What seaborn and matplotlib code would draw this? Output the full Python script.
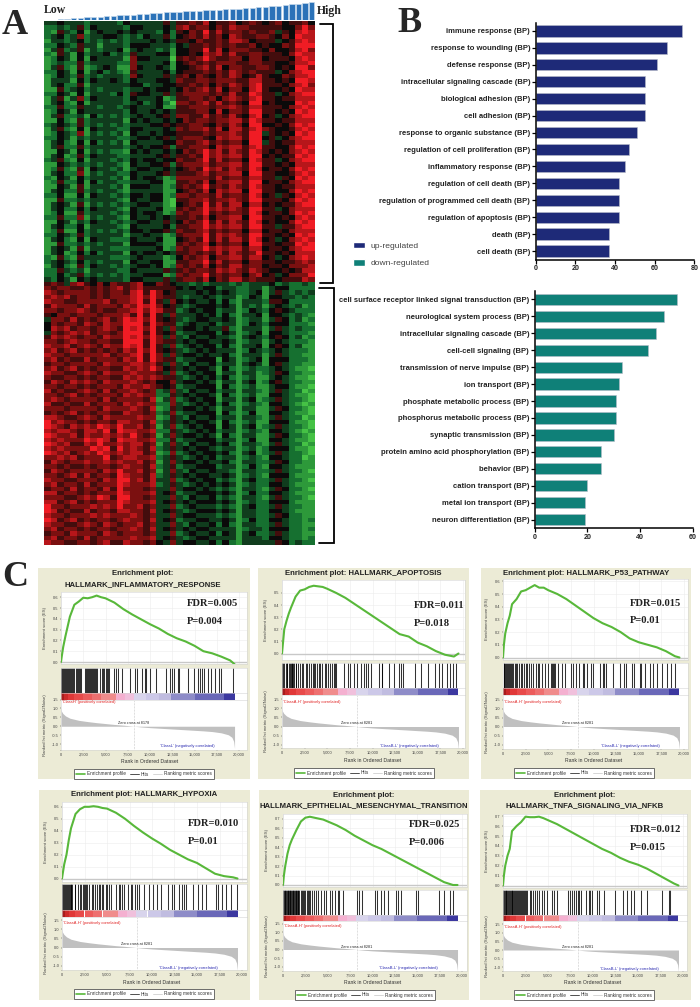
import matplotlib
matplotlib.use('Agg')
import matplotlib.pyplot as plt
from matplotlib.colors import LinearSegmentedColormap
from matplotlib.lines import Line2D
from matplotlib.patches import Patch, Rectangle
import numpy as np
import pandas as pd
import seaborn as sns

# panel A, heat levels typed by eye: 0 bright green, 4 black, 8 bright red
UP_ROWS = [
    "3343332333 3243333353 5565745564 56545645564",
    "2232352433 3324433343 6756646576 65555544686",
    "2153241343 3434333242 5465857566 56556354787",
    "2342362334 4323243352 4565756476 55665464877",
    "1332342323 2323334343 5546556577 64555345787",
    "2243253313 3324443332 4355656565 56454465888",
    "1352351323 3413433231 4455857466 65546445786",
    "2153142334 2325333441 4454767575 56655546877",
    "1243141433 3316443330 5656865566 46645554787",
    "1232252333 3226333341 4565656665 56655445778",
    "1352151234 3116433431 4456757466 55665454886",
    "2243141342 3215333342 4555656576 56555346788",
    "1243252323 3326433353 5646546576 45754465778",
    "1333142433 4324333443 6556656665 57755454887",
    "1342251333 3334423344 5565646576 57855546786",
    "1152342323 3323343443 4656757466 47854454877",
    "2243141333 2425443353 5666656575 58755346788",
    "1351362433 3324333412 5566564676 57855455777",
    "1342141333 3323423420 6656757565 48845444878",
    "2252253323 3234333411 5566656676 57755546787",
    "1243143333 3324334343 5556647466 58855454878",
    "1352231423 2323433453 6655756575 47845346788",
    "1142152333 3314343343 4656656677 58755455777",
    "2343252323 2323334454 5566546576 48844546878",
    "1352141433 3224433343 6566757477 57865445787",
    "1243261323 2314334344 5555656676 58835454878",
    "2243132333 3223443453 5666547677 58845346788",
    "1342141423 2314333344 6556756566 48835455777",
    "1352252333 3323434452 5566647677 57855446878",
    "1143141323 2214343343 4656867576 58754546787",
    "1341252433 3223333453 5565867677 58845455878",
    "2352141333 2324344344 6556857566 48755346788",
    "1143232323 3214334452 5666756677 58855454777",
    "1252151433 2313443343 4565867576 58745546878",
    "1342261323 3224333453 5556756677 48855445787",
    "2143142333 2314344312 6666657566 57755354878",
    "1252241423 3223334411 5565746677 58845546788",
    "1143151333 2314443312 5656856576 58755455777",
    "1342252323 3213333311 4565747677 48855446878",
    "2241141433 2324434412 6656657566 58745354787",
    "1152232333 3214334410 5566756676 58855546878",
    "1343151323 2323443310 4565857577 47745455788",
    "1342242433 3214333411 5656867676 58855346777",
    "1241152333 2324344312 6566856566 58745546878",
    "2252261323 3214334343 5565746677 48855454787",
    "1143132433 2323443353 4656857576 58745446878",
    "1342241333 3214333342 5566867677 58855355788",
    "1251142323 2324434453 6556756566 47745546777",
    "2243252333 3313343312 5666857676 58855454878",
    "1342141433 2224333411 4565857577 58745346787",
    "1152232323 3314444311 5656746566 48855455878",
    "1343151333 2223333412 6566867677 57745546788",
    "1341242423 3314344343 5565657576 56855454777",
    "2152153333 2223433312 4656746677 57745346787",
    "2343242323 3314334411 5566857566 46655455676",
    "1342152433 2323443412 6565746577 56645546667",
    "2253231333 3224333353 5656657676 57654454577",
    "2242352323 2323344412 6566856566 46745346668",
    "3243143433 3324433353 5665746577 56555455576",
    "5653675464 6556744654 3323233323 23334232232",
]

DOWN_ROWS = [
    "6566556565 6756755555 4343442332 23313442222",
    "7656666565 6657858645 3334343432 23413532323",
    "6767566565 6667868655 3233432331 24314433232",
    "7665566667 5667858536 4343342421 33325542222",
    "5766657566 6576878645 3234443431 32313432312",
    "6656676565 5667868755 2343442331 24324543222",
    "5466566656 6675858536 3334342421 33414432321",
    "3665756567 5687868545 3234433431 23313542312",
    "4656657657 6688858655 2343342331 24324442221",
    "4767566567 6587868536 3443433521 33313532322",
    "3656767566 5688858545 2334442431 23414432221",
    "5767656657 6687868636 3243343321 34324542312",
    "6656766566 5588858655 3434433431 23313432221",
    "7667567657 6687858536 2343442421 33414542311",
    "6756756565 6576868545 3234343331 24323432221",
    "7665666667 5667858636 3443433421 33313532211",
    "6756557566 6576858655 2334441431 23414442221",
    "5665666657 6667767536 3243342331 34314532211",
    "6756756566 5576768645 3434431421 23223432110",
    "7665567657 6667666536 2343441331 33123542211",
    "6556656566 5576767655 3234342421 23113432110",
    "5765767657 6667656446 3443431331 34124532211",
    "6656656566 6576676545 2334441421 23113442110",
    "7565567657 5667656236 3243342331 33213532201",
    "6656756566 6576766225 3434431421 23114432110",
    "6765666657 5666657136 2343441331 34123532210",
    "7556557566 6576766226 3234342421 23214432101",
    "6665666657 6667657125 3443431331 33113542210",
    "5656756566 5576656236 2334441421 24114432110",
    "7765567657 6666766125 3243342331 33213532201",
    "8676656566 5776657235 3434431421 23114442110",
    "8765767687 6866756136 2343441431 34123532210",
    "7677657768 5877667225 3234342331 23214432101",
    "8766757667 6768656136 3443431421 33113542210",
    "7676668787 5877667225 2334442331 24114432110",
    "8767557686 6767756136 3243343421 33213532201",
    "7676666878 5867657235 3434432331 23124442110",
    "8767567687 6767756126 2343443421 34123532210",
    "6676756668 5677667235 3234342331 23214432201",
    "5765667667 6766756136 3443433421 33223542211",
    "6656556566 5676657235 2334442331 24214432111",
    "5765666657 6866756136 3243343321 33223532210",
    "6656757566 5876657235 3434433431 23214442111",
    "7665566657 6886757336 2343442321 34223532210",
    "6756657566 6876667235 3234343431 23224432111",
    "5665756657 5866656336 3443432321 33213542210",
    "7756656566 6876667345 2334443431 24224432111",
    "6665567687 5886656336 3243342321 33213532210",
    "7756756566 6876667345 3434443431 23224442111",
    "8665666767 6866756336 2343332321 34223532211",
    "8756557566 5776657345 3234443431 33224432111",
    "7665666767 6667656336 3443332321 33223542211",
    "8756756566 5676657345 2334433431 24224432212",
    "7665567657 6566756336 3243342421 33223532211",
    "6756656566 5667657345 3434433331 23324442212",
    "5665766657 6566656336 2343342431 34223532211",
    "6756657566 6667667345 3234433331 33324432212",
    "7665566567 5576656436 3443342421 33333542322",
]

# bars above the heat map, from low to high
EXPRESSION_BARS = [0.3, 0.5, 1, 1.3, 1.7, 2.2, 2.6, 3, 3.5, 4, 4.2, 4.6, 5, 5.3, 6, 6.5, 7,
                   7.2, 7.6, 8, 8.2, 8.6, 9, 9.3, 9.6, 10, 10.4, 10.8, 11.1, 11.5, 12, 12.5,
                   13, 13.4, 13.8, 14.3, 15, 15.6, 16.5, 17.3, 18]

# panel B
UP_TERMS = ["immune response (BP)", "response to wounding (BP)", "defense response (BP)",
            "intracellular signaling cascade (BP)", "biological adhesion (BP)", "cell adhesion (BP)",
            "response to organic substance (BP)", "regulation of cell proliferation (BP)",
            "inflammatory response (BP)", "regulation of cell death (BP)",
            "regulation of programmed cell death (BP)", "regulation of apoptosis (BP)",
            "death (BP)", "cell death (BP)"]
UP_COUNTS = [74, 66, 61, 55, 55, 55, 51, 47, 45, 42, 42, 42, 37, 37]
DOWN_TERMS = ["cell surface receptor linked signal transduction (BP)", "neurological system process (BP)",
              "intracellular signaling cascade (BP)", "cell-cell signaling (BP)",
              "transmission of nerve impulse (BP)", "ion transport (BP)", "phosphate metabolic process (BP)",
              "phosphorus metabolic process (BP)", "synaptic transmission (BP)",
              "protein amino acid phosphorylation (BP)", "behavior (BP)", "cation transport (BP)",
              "metal ion transport (BP)", "neuron differentiation (BP)"]
DOWN_COUNTS = [54, 49, 46, 43, 33, 32, 31, 31, 30, 25, 25, 20, 19, 19]

# panel C, enrichment curves
ES_RANKS = [0, 100, 250, 500, 750, 1000, 1500, 2000, 2500, 3000, 3500, 4000, 4500, 5000, 6000, 7000,
            8000, 9000, 10000, 11000, 12000, 13000, 14000, 15000, 16000, 17000, 18000, 19000, 19500]
ES_INFLAMMATORY = [0, .06, .14, .24, .33, .42, .53, .56, .595, .59, .60, .615, .60, .59, .55, .49,
                   .44, .395, .35, .31, .26, .22, .19, .15, .10, .08, .05, .015, -.02]
ES_APOPTOSIS = [0, .08, .2, .27, .33, .38, .47, .52, .53, .55, .56, .555, .55, .535, .50, .46,
                .41, .36, .31, .26, .21, .16, .14, .09, .06, .02, -.01, -.025, 0]
ES_P53 = [0, .1, .19, .27, .33, .42, .46, .52, .53, .55, .57, .55, .55, .53, .50, .46,
          .41, .36, .31, .27, .24, .2, .15, .12, .1, .08, .05, .01, 0]
ES_HYPOXIA = [0, .05, .12, .2, .32, .42, .54, .58, .60, .60, .605, .60, .59, .585, .55, .50,
              .44, .385, .335, .29, .24, .2, .16, .13, .085, .04, .02, .01, 0]
ES_EMT = [0, .1, .2, .33, .42, .48, .58, .67, .71, .72, .71, .70, .69, .67, .63, .58,
          .52, .47, .42, .38, .33, .28, .23, .18, .13, .08, .03, 0, 0]
ES_TNFA = [0, .1, .2, .3, .37, .55, .6, .64, .695, .69, .69, .695, .68, .66, .62, .57,
           .52, .47, .42, .37, .33, .28, .24, .21, .17, .12, .07, .02, 0]

HITS_INFLAMMATORY = [50, 150, 250, 350, 500, 600, 700, 800, 900, 1000, 1100, 1250, 1400, 1500, 1650, 1800,
                     1950, 2050, 2150, 2300, 2700, 2800, 2900, 3050, 3200, 3300, 3400, 3500, 3600, 3700,
                     3800, 3950, 4100, 4400, 4600, 4700, 4850, 5000, 5150, 5300, 5400, 5950, 6200, 6400,
                     6900, 7700, 8300, 8500, 9100, 9400, 9500, 10050, 10700, 11800, 12300, 12500, 12700,
                     13100, 13300, 14300, 14900, 15350, 15600, 15800, 16100, 16500, 16800, 17300, 17800,
                     18000, 19300]
HITS_APOPTOSIS = [40, 120, 250, 400, 500, 600, 760, 900, 1000, 1080, 1150, 1250, 1330, 1500, 1600, 1750,
                  2000, 2200, 2350, 2600, 2750, 3000, 3150, 3400, 3500, 3700, 3900, 4100, 4250, 4400,
                  4700, 4900, 5100, 5300, 5500, 5700, 5900, 6000, 6800, 7300, 7500, 8000, 8300, 8700,
                  9100, 9300, 9500, 9800, 10700, 11000, 11100, 11800, 12400, 12900, 13100, 13400, 14700,
                  15400, 16100, 16900, 17400, 17700, 18200, 18600, 18900, 19200]
HITS_P53 = [60, 150, 260, 380, 480, 600, 700, 820, 900, 1000, 1150, 1300, 1450, 1600, 1750, 1950, 2150,
            2300, 2500, 2650, 2900, 3100, 3350, 3700, 3850, 4000, 4300, 4600, 5000, 5300, 5400, 5550,
            5650, 5800, 6100, 6550, 6800, 7500, 7700, 8100, 8400, 8800, 9000, 9300, 9700, 9900, 10700,
            11000, 11200, 11400, 12100, 12900, 13400, 13600, 14200, 14500, 15100, 15300, 15700, 16200,
            16600, 17000, 17600, 18100, 18600, 19000]
HITS_HYPOXIA = [50, 150, 250, 350, 450, 550, 650, 750, 850, 950, 1050, 1150, 1400, 1500, 1750, 1950, 2100,
                2300, 2400, 2500, 2650, 2800, 3000, 3300, 3400, 3650, 3900, 4100, 4200, 4400, 4600, 4900,
                5050, 5200, 5500, 6000, 6300, 6500, 6650, 6900, 7350, 7650, 7800, 8100, 8350, 8600, 9100,
                9700, 10100, 10600, 11000, 11800, 12200, 12400, 13000, 13300, 13600, 13800, 14500, 15100,
                15500, 16000, 17100, 17300, 17800, 18200, 18800, 19400]
HITS_EMT = [30, 110, 190, 270, 350, 430, 510, 590, 670, 750, 830, 910, 990, 1070, 1150, 1230, 1310, 1400,
            1480, 1560, 1640, 1720, 1800, 2000, 2120, 2200, 2350, 2500, 2650, 2800, 2900, 3000, 3250, 3500,
            3700, 3900, 4300, 4600, 4800, 5200, 5500, 5800, 6100, 6300, 6700, 8300, 8500, 8800, 10300,
            10450, 11000, 11300, 11700, 12600, 12900, 13200, 14900, 15100, 17400, 18000, 18700, 18950]
HITS_TNFA = [40, 120, 200, 300, 380, 470, 560, 650, 750, 850, 950, 1050, 1150, 1250, 1350, 1450, 1600, 1700,
             1800, 1900, 2000, 2100, 2200, 2300, 2400, 2500, 2700, 3000, 3150, 3300, 3600, 3800, 4000, 4300,
             4500, 4900, 5500, 5700, 6000, 7200, 7400, 7700, 7900, 8100, 8300, 8400, 8700, 9200, 9500, 9700,
             9900, 10400, 10700, 11200, 12400, 13300, 13800, 14200, 14500, 15300, 16000, 17700, 18400, 18600]

# ranking metric, one shared shape
METRIC_RANKS = [0, 50, 200, 500, 1000, 2000, 3000, 4000, 5000, 6000, 7000, 8200, 9000, 10000, 12000, 14000,
                16000, 17000, 18000, 18800, 19200, 19400, 19500]
METRIC_VALUES = [1.05, .85, .72, .58, .45, .33, .26, .2, .15, .1, .06, 0, -.04, -.08, -.14, -.2, -.26, -.3,
                 -.37, -.48, -.62, -.85, -1.25]

BAND_EDGES = [0, 300, 800, 1500, 2500, 3500, 4500, 6200, 7200, 8200, 9500, 11000, 12400, 15000, 18300, 19500]
BAND_COLORS = ['#a81c1c', '#cc2a2a', '#e03838', '#e84a4a', '#ec5c5c', '#ee7070', '#f08c8c', '#f4b0d0',
               '#f0c0dc', '#d8d4ec', '#ccc8e8', '#c0bce0', '#8e8cc8', '#6a68b8', '#3c38a0']
RANK_TICKS = [0, 2500, 5000, 7500, 10000, 12500, 15000, 17500, 20000]

W, H = 700, 1007
SERIF = 'Liberation Serif'
SANS = 'Liberation Sans'

# layout of the six small plots, in pixels
PANELS = [
    dict(title=["Enrichment plot:", "HALLMARK_INFLAMMATORY_RESPONSE"], title_x=143, title_y=[573.5, 584.5],
         es=ES_INFLAMMATORY, hits=HITS_INFLAMMATORY, fdr="FDR=0.005", p="P=0.004", fdr_xy=(187, 604, 622),
         bg=(38, 250, 568, 779), x=(61, 239, 247), es_box=(592, 663.5, 662, 108), es_max=.6, hit_box=(668, 692.5),
         band_end=699.5, rank_box=(699.5, 750, 726, 18), legend=(144, 774), cross=8178,
         classes=("'ClassH' (positively correlated)", "'ClassL' (negatively correlated)"), xlabel_y=761.5),
    dict(title=["Enrichment plot: HALLMARK_APOPTOSIS"], title_x=363, title_y=[573.5],
         es=ES_APOPTOSIS, hits=HITS_APOPTOSIS, fdr="FDR=0.011", p="P=0.018", fdr_xy=(414, 605, 623),
         bg=(258, 469, 568, 779), x=(282, 463, 465), es_box=(580, 660, 653.5, 121), es_max=.5, hit_box=(662.5, 688),
         band_end=695, rank_box=(695, 748, 726.5, 18.1), legend=(364, 773), cross=8281,
         classes=("'ClassA-H' (positively correlated)", "'ClassB-L' (negatively correlated)"), xlabel_y=761),
    dict(title=["Enrichment plot: HALLMARK_P53_PATHWAY"], title_x=586, title_y=[573.5],
         es=ES_P53, hits=HITS_P53, fdr="FDR=0.015", p="P=0.01", fdr_xy=(630, 603, 620.5),
         bg=(481, 691, 568, 779), x=(503, 684, 688), es_box=(579, 660, 657.5, 127), es_max=.6, hit_box=(662.5, 688),
         band_end=695, rank_box=(695, 749, 726.5, 18), legend=(584, 773), cross=8281,
         classes=("'ClassA-H' (positively correlated)", "'ClassB-L' (negatively correlated)"), xlabel_y=761),
    dict(title=["Enrichment plot: HALLMARK_HYPOXIA"], title_x=144, title_y=[795],
         es=ES_HYPOXIA, hits=HITS_HYPOXIA, fdr="FDR=0.010", p="P=0.01", fdr_xy=(188, 824, 842),
         bg=(39, 250, 790, 1000), x=(62, 242, 247), es_box=(802, 881.5, 878.5, 119.5), es_max=.6, hit_box=(884, 910),
         band_end=916.5, rank_box=(916.5, 970, 947.5, 18.3), legend=(144, 994), cross=8281,
         classes=("'ClassA-H' (positively correlated)", "'ClassB-L' (negatively correlated)"), xlabel_y=982),
    dict(title=["Enrichment plot:", "HALLMARK_EPITHELIAL_MESENCHYMAL_TRANSITION"], title_x=364, title_y=[795.5, 805.5],
         es=ES_EMT, hits=HITS_EMT, fdr="FDR=0.025", p="P=0.006", fdr_xy=(409, 824.5, 842.5),
         bg=(259, 469, 790, 1000), x=(283, 462, 467), es_box=(813.5, 887, 885, 94.8), es_max=.7, hit_box=(890, 914.5),
         band_end=920.5, rank_box=(920.5, 971, 949.5, 17.2), legend=(365, 995), cross=8281,
         classes=("'ClassA-H' (positively correlated)", "'ClassB-L' (negatively correlated)"), xlabel_y=983),
    dict(title=["Enrichment plot:", "HALLMARK_TNFA_SIGNALING_VIA_NFKB"], title_x=585, title_y=[795.5, 805.5],
         es=ES_TNFA, hits=HITS_TNFA, fdr="FDR=0.012", p="P=0.015", fdr_xy=(630, 829.5, 847),
         bg=(480, 691, 790, 1000), x=(503, 683, 687), es_box=(813.5, 887.5, 885.5, 99), es_max=.7, hit_box=(890, 914.5),
         band_end=920.5, rank_box=(920.5, 971, 950, 17.2), legend=(584, 995), cross=8281,
         classes=("'ClassA-H' (positively correlated)", "'ClassB-L' (negatively correlated)"), xlabel_y=983),
]

sns.set_theme(style='white')
plt.rcParams['font.family'] = [SANS, 'DejaVu Sans']

fig = plt.figure(figsize=(W / 100, H / 100), dpi=100, facecolor='white')


def px_axes(x0, x1, y0, y1, **kw):
    return fig.add_axes([x0 / W, 1 - y1 / H, (x1 - x0) / W, (y1 - y0) / H], **kw)


def put(x, y, s, **kw):
    kw.setdefault('ha', 'left')
    kw.setdefault('va', 'center')
    return fig.text(x / W, 1 - y / H, s, **kw)


def bracket(x0, x1, y0, y1):
    fig.add_artist(Line2D([x0 / W, x1 / W, x1 / W, x0 / W],
                          [1 - y0 / H, 1 - y0 / H, 1 - y1 / H, 1 - y1 / H],
                          color='black', lw=1.3, solid_joinstyle='miter'))


def to_matrix(rows):
    return [[int(c) for c in r.replace(' ', '').ljust(41, '4')[:41]] for r in rows]


# panel A
heat_cmap = LinearSegmentedColormap.from_list('gbr', ['#45c245', '#167030', '#0a0a0a', '#7a1010', '#f01c24'])
heat_ax = px_axes(44, 315, 21, 286)
sns.heatmap(to_matrix(UP_ROWS), ax=heat_ax, cmap=heat_cmap, vmin=0, vmax=8, cbar=False,
            xticklabels=False, yticklabels=False)
heat_ax2 = px_axes(44, 315, 286, 544.5)
sns.heatmap(to_matrix(DOWN_ROWS), ax=heat_ax2, cmap=heat_cmap, vmin=0, vmax=8, cbar=False,
            xticklabels=False, yticklabels=False)

bar_ax = px_axes(44, 315, 2, 20)
sns.barplot(x=list(range(len(EXPRESSION_BARS))), y=EXPRESSION_BARS, color='#2b72b8', saturation=1, width=0.8,
            edgecolor='#c4d8ec', linewidth=0.5, ax=bar_ax)
bar_ax.set_ylim(0, 18)
bar_ax.set_xlim(-0.5, 40.5)
bar_ax.axis('off')

put(44, 10, "Low", family=[SERIF], weight='bold', fontsize=8.5, color='#222222')
put(317, 11, "High", family=[SERIF], weight='bold', fontsize=8.5, color='#222222')
put(2, 25, "A", family=[SERIF], weight='bold', fontsize=26)
put(397, 24, "B", family=[SERIF], weight='bold', fontsize=26)
put(2, 578, "C", family=[SERIF], weight='bold', fontsize=26)
bracket(320, 333, 24, 283)
bracket(319, 334, 288, 543)


# panel B
def term_bars(terms, counts, color, box, xmax, xticks):
    ax = px_axes(*box)
    data = pd.DataFrame({'term': terms, 'count': counts})
    sns.barplot(data=data, y='term', x='count', color=color, saturation=1, width=0.67,
                edgecolor='#b8bcc8', linewidth=0.4, ax=ax)
    ax.set_xlim(0, xmax)
    ax.set_ylim(13.5, -0.5)
    ax.set_xticks(xticks)
    ax.set_xlabel('')
    ax.set_ylabel('')
    ax.tick_params(axis='y', labelsize=5.5, length=3, width=0.9, pad=1, labelcolor='#222222', color='black', left=True)
    ax.tick_params(axis='x', labelsize=5.1, length=3, width=0.9, pad=1, labelcolor='#222222', color='black', bottom=True)
    for lab in ax.get_yticklabels() + ax.get_xticklabels():
        lab.set_fontweight('bold')
    sns.despine(ax=ax)
    for side in ['left', 'bottom']:
        ax.spines[side].set_linewidth(1.1)
        ax.spines[side].set_color('black')
    return ax


term_bars(UP_TERMS, UP_COUNTS, '#1e2a78', (535.7, 694.3, 22.5, 259.5), 80, [0, 20, 40, 60, 80])
term_bars(DOWN_TERMS, DOWN_COUNTS, '#0f8078', (534.7, 693, 291, 528), 60, [0, 20, 40, 60])

fig.legend(handles=[Patch(facecolor='#1e2a78', label='up-regulated'),
                    Patch(facecolor='#0f8078', label='down-regulated')],
           loc='upper left', bbox_to_anchor=(345 / W, 1 - 234 / H), frameon=False, fontsize=6.1,
           labelspacing=1.1, handlelength=1.5, handleheight=0.8, handletextpad=0.65, labelcolor='#444444')

# panel C
GREEN = '#58b83a'
for p in PANELS:
    bx0, bx1, by0, by1 = p['bg']
    fig.add_artist(Rectangle((bx0 / W, 1 - by1 / H), (bx1 - bx0) / W, (by1 - by0) / H, transform=fig.transFigure,
                             facecolor='#ecebd6', edgecolor='none', zorder=-1))
    left, x20k, right = p['x']
    xlim = (0, (right - left) / (x20k - left) * 20000)

    for ty, line in zip(p['title_y'], p['title']):
        put(p['title_x'], ty, line, ha='center', weight='bold', fontsize=5.6, color='#222222')

    # enrichment curve
    top, bottom, zero, unit = p['es_box']
    ax = px_axes(left, right, top, bottom, facecolor='white')
    ax.grid(True, color='#ececec', lw=0.4)
    ax.axhline(0, color='#c8c8c8', lw=1.0, zorder=1)
    sns.lineplot(x=ES_RANKS, y=p['es'], color=GREEN, lw=1.5, ax=ax, zorder=3)
    ax.set_xlim(*xlim)
    ax.set_ylim((zero - bottom) / unit, (zero - top) / unit)
    ax.set_yticks(np.arange(0, p['es_max'] + .01, .1))
    ax.set_yticklabels([f"{v:.1f}" for v in np.arange(0, p['es_max'] + .01, .1)])
    ax.set_xticks(RANK_TICKS)
    ax.tick_params(axis='x', labelbottom=False, length=0)
    ax.tick_params(axis='y', labelsize=2.9, length=1, width=0.3, pad=1, labelcolor='#444444', left=True)

    # hit marks
    hax = px_axes(left, right, p['hit_box'][0], p['hit_box'][1], facecolor='white')
    hax.vlines(p['hits'], 0, 1, color='black', lw=0.75, alpha=0.8)
    hax.set_xlim(*xlim)
    hax.set_ylim(0, 1)
    hax.set_xticks([])
    hax.set_yticks([])

    # colour band
    bax = px_axes(left, right, p['hit_box'][1], p['band_end'], facecolor='white')
    for i, c in enumerate(BAND_COLORS):
        bax.axvspan(BAND_EDGES[i], BAND_EDGES[i + 1], color=c, lw=0)
    bax.set_xlim(*xlim)
    bax.set_xticks([])
    bax.set_yticks([])

    # ranking metric
    rtop, rbottom, rzero, runit = p['rank_box']
    rax = px_axes(left, right, rtop, rbottom, facecolor='white')
    rax.fill_between(METRIC_RANKS, METRIC_VALUES, 0, color='#c0c0c0', lw=0)
    rax.axvline(p['cross'], color='#999999', lw=0.4, ls=':')
    rax.set_xlim(*xlim)
    rax.set_ylim((rzero - rbottom) / runit, (rzero - rtop) / runit)
    rax.set_yticks([-1, -.5, 0, .5, 1, 1.5])
    rax.set_yticklabels(['-1.0', '-0.5', '0.0', '0.5', '1.0', '1.5'])
    rax.set_xticks(RANK_TICKS)
    rax.set_xticklabels([f"{v:,}" for v in RANK_TICKS])
    rax.tick_params(labelsize=2.9, length=1, width=0.3, pad=1, labelcolor='#444444', left=True, bottom=True)
    rax.text(100, 1.35, p['classes'][0], color='#e02020', fontsize=2.9, va='center')
    rax.text(17300, -1.1, p['classes'][1], color='#2828b0', fontsize=2.9, ha='right', va='center')
    rax.text(p['cross'], .17, f"Zero cross at {p['cross']}", color='#222222', fontsize=2.7, ha='center', va='center')

    for a in [ax, hax, bax, rax]:
        for s in a.spines.values():
            s.set_color('#d4d4d4')
            s.set_linewidth(0.4)

    put(left - 16, (top + bottom) / 2, "Enrichment score (ES)", rotation=90, ha='center', fontsize=3.1, color='#444444')
    put(left - 16, (rtop + rbottom) / 2, "Ranked list metric (Signal2Noise)", rotation=90, ha='center',
        fontsize=3.1, color='#444444')
    put((left + x20k) / 2, p['xlabel_y'], "Rank in Ordered Dataset", ha='center', fontsize=3.7, color='#333333')

    fx, fy, py = p['fdr_xy']
    put(fx, fy, p['fdr'], family=[SERIF], weight='bold', fontsize=7.6, color='#222222')
    put(fx, py, p['p'], family=[SERIF], weight='bold', fontsize=7.6, color='#222222')

    lx, ly = p['legend']
    fig.legend(handles=[Line2D([], [], color=GREEN, lw=1.2, label='Enrichment profile'),
                        Line2D([], [], color='#333333', lw=0.6, label='Hits'),
                        Line2D([], [], color='#d0d0d0', lw=0.6, label='Ranking metric scores')],
               loc='center', bbox_to_anchor=(lx / W, 1 - ly / H), ncol=3, fontsize=3.4, frameon=True, fancybox=False,
               edgecolor='#555555', facecolor='white', framealpha=1, handlelength=1.9, columnspacing=0.9,
               handletextpad=0.35, borderpad=0.55, labelcolor='#333333').get_frame().set_linewidth(0.6)

fig.savefig('out.png', dpi=100)
plt.close(fig)
